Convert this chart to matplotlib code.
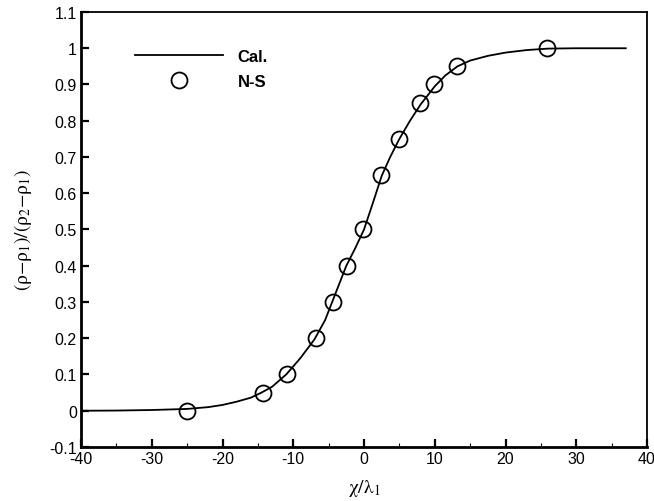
import matplotlib
matplotlib.use("Agg")
import matplotlib.pyplot as plt
from matplotlib.ticker import MultipleLocator, FuncFormatter

plt.rcParams['font.family'] = ['Liberation Sans', 'DejaVu Sans']
plt.rcParams['axes.unicode_minus'] = False
plt.rcParams['mathtext.fontset'] = 'stix'

# calculated profile
cal_x = [-40, -35, -30, -25, -22, -20, -18, -16, -14.5, -13, -11, -9, -7,
         -5.5, -4.5, -3.5, -2.5, -1.25, 0, 1.25, 2.5, 3.7, 5, 6.5, 8, 10,
         11.5, 13.2, 15, 17.5, 20, 23, 26, 30, 37]
cal_y = [0.0, 0.0005, 0.002, 0.005, 0.01, 0.016, 0.025, 0.036, 0.05, 0.066,
         0.1, 0.145, 0.197, 0.25, 0.3, 0.35, 0.4, 0.448, 0.5, 0.573, 0.648,
         0.70, 0.75, 0.80, 0.845, 0.895, 0.925, 0.95, 0.966, 0.979, 0.988,
         0.995, 0.999, 1.0, 1.0]

# N-S points
ns_x = [-25, -14.3, -10.9, -6.8, -4.4, -2.45, -0.1, 2.4, 5.0, 7.9, 9.9, 13.1, 25.9]
ns_y = [0.0, 0.05, 0.1, 0.2, 0.3, 0.4, 0.5, 0.65, 0.75, 0.85, 0.9, 0.95, 1.0]

fig = plt.figure(figsize=(6.54, 5.02), dpi=100)
ax = fig.add_axes([0.1239, 0.1076, 0.8654, 0.8665])

ax.plot(cal_x, cal_y, color='black', lw=1.3, label='Cal.')
ax.plot(ns_x, ns_y, 'o', ms=11.5, mfc='none', mec='black', mew=1.3, label='N-S')

ax.set_xlim(-40, 40)
ax.set_ylim(-0.1, 1.1)
ax.xaxis.set_major_locator(MultipleLocator(10))
ax.xaxis.set_minor_locator(MultipleLocator(5))
ax.yaxis.set_major_locator(MultipleLocator(0.1))
fmt = FuncFormatter(lambda v, p: '%g' % round(v, 2))
ax.xaxis.set_major_formatter(fmt)
ax.yaxis.set_major_formatter(fmt)

ax.tick_params(which='major', direction='in', length=6, width=1.6,
               labelsize=11.5, pad=3, top=False, right=False)
ax.tick_params(which='minor', direction='in', length=3, width=0.8,
               top=False, right=False)
ax.tick_params(axis='y', which='minor', left=False)

for s in ['left', 'bottom']:
    ax.spines[s].set_linewidth(2.0)
for s in ['top', 'right']:
    ax.spines[s].set_linewidth(1.3)

ax.set_xlabel(r'$\mathrm{\chi/\lambda_1}$', fontsize=14, labelpad=8)
ax.set_ylabel(r'$\mathrm{(\rho{-}\rho_1)/(\rho_2{-}\rho_1)}$', fontsize=14, labelpad=11)

leg = ax.legend(loc='upper left', bbox_to_anchor=(0.068, 0.95), frameon=False,
                handlelength=5.3, handletextpad=0.9, labelspacing=0.62,
                numpoints=1, prop={'weight': 'bold', 'size': 12})

fig.savefig('out.png', dpi=100)
